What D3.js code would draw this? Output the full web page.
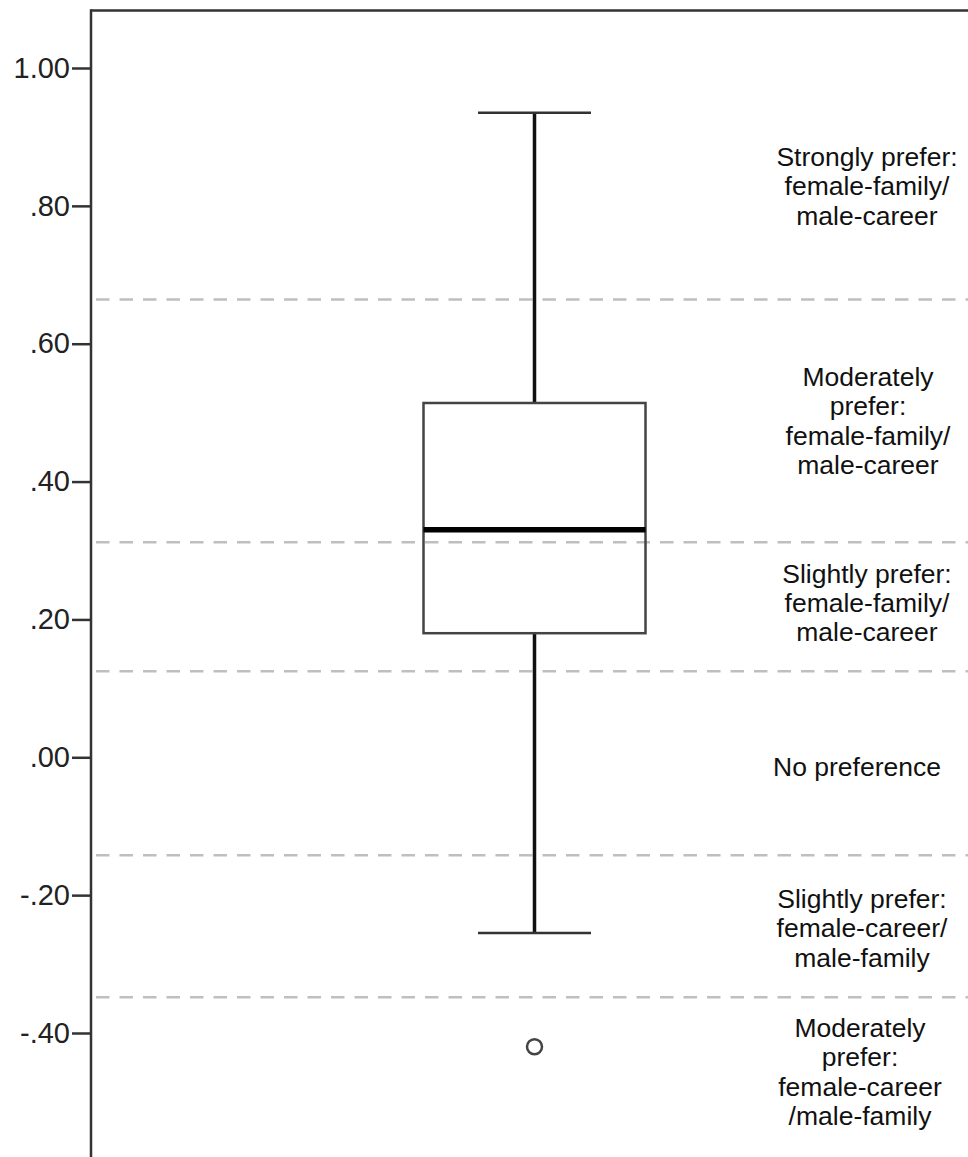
<!DOCTYPE html>
<html>
<head>
<meta charset="utf-8">
<script src="https://cdn.jsdelivr.net/npm/d3@7/dist/d3.min.js"></script>
<style>
  html, body { margin: 0; padding: 0; background: #fff; }
  svg { display: block; }
  text { font-family: "Liberation Sans", Arial, sans-serif; }
</style>
</head>
<body>
<svg id="chart" width="968" height="1157"></svg>
<script>
// ---- data ----
const tickValues = [-0.4, -0.2, 0.0, 0.2, 0.4, 0.6, 0.8, 1.0];
const tickLabels = ["-.40", "-.20", ".00", ".20", ".40", ".60", ".80", "1.00"];
const boxStats = { lowerWhisker: -0.255, q1: 0.180, median: 0.330, q3: 0.514, upperWhisker: 0.935 };
const outliers = [-0.420];
const thresholds = [0.664, 0.312, 0.125, -0.142, -0.348];
const bandLabels = [
  ["Strongly prefer:", "female-family/", "male-career"],
  ["Moderately", "prefer:", "female-family/", "male-career"],
  ["Slightly prefer:", "female-family/", "male-career"],
  ["No preference"],
  ["Slightly prefer:", "female-career/", "male-family"],
  ["Moderately", "prefer:", "female-career", "/male-family"]
];
// value at the first baseline of each label block
const bandLabelAnchor = [0.858, 0.539, 0.2533, -0.0271, -0.2185, -0.4058];

// ---- layout ----
const W = 968, H = 1157;
const axisX = 91, topY = 10.5;
const labelCX = [867, 868, 867, 857, 862, 860];
const lineH = 29.4;

const svg = d3.select("#chart");
const y = d3.scaleLinear().domain([-0.4, 1.0]).range([1033, 68]);
const x = d3.scaleBand().domain(["all"]).range([axisX, 978]).padding(0);
const cx = 534.5, boxW = 222, capW = 113;

// dashed threshold lines
svg.append("g").selectAll("line").data(thresholds).join("line")
  .attr("x1", 96).attr("x2", W)
  .attr("y1", d => y(d)).attr("y2", d => y(d))
  .attr("stroke", "#bfbfbf").attr("stroke-width", 2.5)
  .attr("stroke-dasharray", "13.5 10");

// whiskers
const g = svg.append("g");
g.append("line").attr("x1", cx).attr("x2", cx)
  .attr("y1", y(boxStats.upperWhisker)).attr("y2", y(boxStats.q3))
  .attr("stroke", "#111").attr("stroke-width", 3.5);
g.append("line").attr("x1", cx).attr("x2", cx)
  .attr("y1", y(boxStats.q1)).attr("y2", y(boxStats.lowerWhisker))
  .attr("stroke", "#111").attr("stroke-width", 3.5);
g.selectAll("line.cap").data([boxStats.upperWhisker, boxStats.lowerWhisker]).join("line")
  .attr("class", "cap")
  .attr("x1", cx - capW / 2).attr("x2", cx + capW / 2)
  .attr("y1", d => y(d)).attr("y2", d => y(d))
  .attr("stroke", "#333").attr("stroke-width", 2.5);

// box
g.append("rect")
  .attr("x", cx - boxW / 2).attr("width", boxW)
  .attr("y", y(boxStats.q3)).attr("height", y(boxStats.q1) - y(boxStats.q3))
  .attr("fill", "none").attr("stroke", "#444").attr("stroke-width", 2.5);
g.append("line")
  .attr("x1", cx - boxW / 2).attr("x2", cx + boxW / 2)
  .attr("y1", y(boxStats.median)).attr("y2", y(boxStats.median))
  .attr("stroke", "#000").attr("stroke-width", 5.5);

// outliers
g.selectAll("circle").data(outliers).join("circle")
  .attr("cx", cx).attr("cy", d => y(d)).attr("r", 7.5)
  .attr("fill", "#fff").attr("stroke", "#444").attr("stroke-width", 2.5);

// axis
const fmt = d => tickLabels[tickValues.indexOf(d)];
const axis = d3.axisLeft(y).tickValues(tickValues).tickFormat(fmt).tickSize(19).tickPadding(2);
const ax = svg.append("g").attr("transform", `translate(${axisX},0)`).call(axis);
ax.select(".domain").remove();
ax.selectAll(".tick line").attr("stroke", "#333").attr("stroke-width", 2.5);
ax.selectAll(".tick text").attr("font-size", 29).attr("fill", "#222")
  .attr("font-family", "'Liberation Sans', Arial, sans-serif");

// frame: left axis line and top line
svg.append("line").attr("x1", axisX).attr("x2", axisX).attr("y1", topY - 1.25).attr("y2", H)
  .attr("stroke", "#333").attr("stroke-width", 2.5);
svg.append("line").attr("x1", axisX).attr("x2", W).attr("y1", topY).attr("y2", topY)
  .attr("stroke", "#333").attr("stroke-width", 2.5);

// band labels
bandLabels.forEach((lines, i) => {
  const t = svg.append("text")
    .attr("text-anchor", "middle")
    .attr("font-size", 26.5).attr("fill", "#111");
  lines.forEach((ln, j) => {
    t.append("tspan").attr("x", labelCX[i]).attr("y", y(bandLabelAnchor[i]) + j * lineH).text(ln);
  });
});
</script>
</body>
</html>
